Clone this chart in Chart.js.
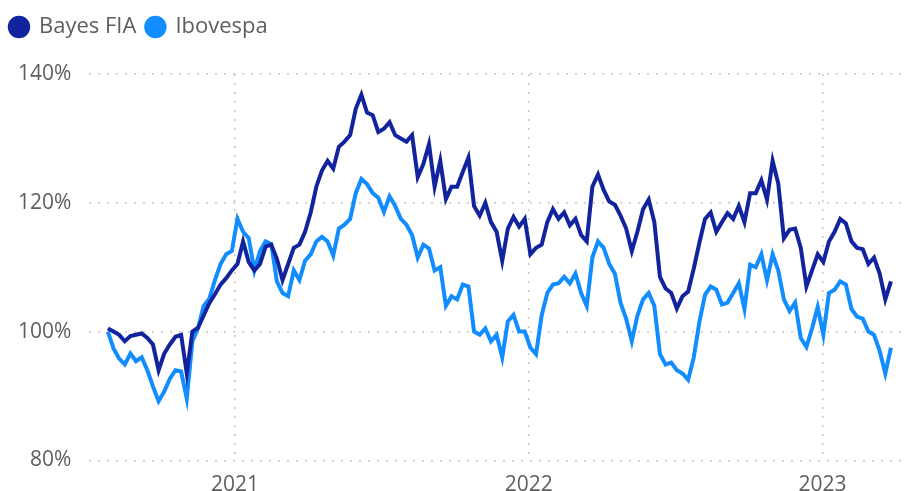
<!DOCTYPE html>
<html>
<head>
<meta charset="utf-8">
<script src="https://cdn.jsdelivr.net/npm/chart.js@4.4.0/dist/chart.umd.min.js"></script>
<style>
  html, body { margin: 0; padding: 0; background: #fff; }
  #wrap { width: 905px; height: 491px; }
</style>
</head>
<body>
<div id="wrap"><canvas id="myChart"></canvas></div>
<script>
// weekly closes, first week starting 2020-07-27
var firstWeek = "2020-07-27";
var yearTicks = ["2021-01-01", "2022-01-01", "2023-01-01"];
var bayes = [
	100.5, 100, 99.5, 98.5, 99.3, 99.5, 99.7, 99, 98, 94,
	96.6, 98, 99.2, 99.5, 93.5, 100, 100.6, 102.5, 104.4, 105.8,
	107.3, 108.3, 109.5, 110.5, 114, 110.8, 109.5, 110.5, 113.2, 113.5,
	111.3, 108, 110.5, 113, 113.5, 115.5, 118.5, 122.5, 125, 126.5,
	125.3, 128.7, 129.5, 130.5, 134.6, 136.8, 134, 133.6, 131, 131.5,
	132.5, 130.5, 130, 129.5, 130.5, 124, 126, 129.1, 122.5, 126.5,
	120.6, 122.5, 122.5, 124.8, 127, 119.5, 118, 120, 117, 115.5,
	111, 116, 117.8, 116.3, 117.5, 112, 113, 113.5, 117, 119,
	117.5, 118.5, 116.5, 117.5, 115, 114, 122.5, 124.4, 122, 120.2,
	119.7, 118, 116, 112.5, 115.5, 119, 120.5, 117, 108.5, 106.7,
	106, 103.6, 105.5, 106.2, 109.8, 113.8, 117.5, 118.5, 115.5, 117,
	118.4, 117.5, 119.5, 117, 121.5, 121.5, 123.5, 120.5, 126.5, 123,
	114.5, 115.8, 116, 113, 107, 109.5, 112, 110.8, 114, 115.5,
	117.5, 116.8, 114, 113, 112.8, 110.5, 111.5, 109, 105, 107.8
];
var ibov = [
	100, 97.4, 95.8, 94.9, 96.6, 95.4, 96, 94, 91.5, 89.2,
	90.7, 92.7, 94, 93.8, 89.6, 98.5, 100.5, 104, 105.1, 108,
	110.5, 112, 112.5, 117.5, 115.5, 114.5, 109.5, 112.5, 114, 113.6,
	107.8, 106, 105.5, 109.5, 108, 111, 112, 114, 114.7, 114,
	111.8, 116, 116.6, 117.5, 121.5, 123.7, 122.9, 121.5, 120.8, 118.6,
	121, 119.5, 117.5, 116.6, 115, 111.5, 113.5, 112.9, 109.5, 110,
	104, 105.5, 105, 107.3, 107, 100, 99.5, 100.5, 98.5, 99.5,
	96, 101.6, 102.6, 100, 100, 97.5, 96.5, 102.5, 106, 107.3,
	107.5, 108.5, 107.5, 109, 106, 104, 111.5, 114, 113, 110.5,
	109, 104.5, 102, 98.5, 102.5, 105, 106, 104, 96.5, 94.9,
	95.2, 94, 93.5, 92.5, 96, 101.5, 105.7, 107, 106.5, 104.2,
	104.5, 106, 107.5, 103.5, 110.4, 110, 112, 108, 112, 109.5,
	105, 103.2, 104.5, 99, 97.6, 100.5, 103.8, 99.5, 106, 106.5,
	107.8, 107.3, 103.5, 102.3, 102, 100, 99.5, 97, 93.5, 97.5
];

var day = 24 * 3600 * 1000;
var t0 = Date.parse(firstWeek);
function points(arr){
	var out = [];
	for (let i = 0; i < arr.length; i++){
		out.push({x: t0 + i * 7 * day, y: arr[i]});
	}
	return out;
}
var tickValues = yearTicks.map(function(d){ return Date.parse(d); });

var gridColor = "#c8c6c4";
var textColor = "#605e5c";
var fontFamily = "'Segoe UI', 'Open Sans', sans-serif";

// push the plot down below the legend
var legendGap = {
	id: 'legendGap',
	beforeInit: function(chart){
		var fit = chart.legend.fit;
		chart.legend.fit = function(){
			fit.bind(chart.legend)();
			this.height += 26;
		};
	}
};

const ctx = document.getElementById('myChart').getContext('2d');
const myChart = new Chart(ctx, {
	type: 'line',
	data: {
		datasets: [{
			label: 'Bayes FIA',
			data: points(bayes),
			borderColor: '#12239e',
			backgroundColor: '#12239e',
			borderWidth: 4,
			pointRadius: 0,
			tension: 0
		}, {
			label: 'Ibovespa',
			data: points(ibov),
			borderColor: '#118dff',
			backgroundColor: '#118dff',
			borderWidth: 4,
			pointRadius: 0,
			tension: 0
		}]
	},
	options: {
		responsive: true,
		maintainAspectRatio: false,
		animation: false,
		layout: { padding: { left: 0, right: 2, top: 6, bottom: -19 } },
		plugins: {
			tooltip: { enabled: false },
			legend: {
				position: 'top',
				align: 'start',
				labels: {
					usePointStyle: true,
					pointStyle: 'circle',
					boxWidth: 18,
					boxHeight: 13,
					padding: 10,
					color: textColor,
					font: { family: fontFamily, size: 22 }
				}
			}
		},
		scales: {
			x: {
				type: 'linear',
				min: Date.parse("2020-07-04"),
				max: Date.parse("2023-04-11"),
				afterBuildTicks: function(scale){
					scale.ticks = tickValues.map(function(v){ return {value: v}; });
				},
				ticks: {
					color: textColor,
					font: { family: fontFamily, size: 21 },
					padding: 12,
					maxRotation: 0,
					callback: function(v){ return new Date(v).getUTCFullYear(); }
				},
				grid: { color: gridColor, lineWidth: 1.5, drawTicks: false },
				border: { display: false, dash: [2, 7] }
			},
			y: {
				min: 80,
				max: 140,
				ticks: {
					stepSize: 20,
					color: textColor,
					font: { family: fontFamily, size: 21 },
					padding: 18,
					callback: function(v){ return v + '%'; }
				},
				grid: { color: gridColor, lineWidth: 1.5, drawTicks: false },
				border: { display: false, dash: [2, 7] }
			}
		}
	},
	plugins: [legendGap]
});
</script>
</body>
</html>
